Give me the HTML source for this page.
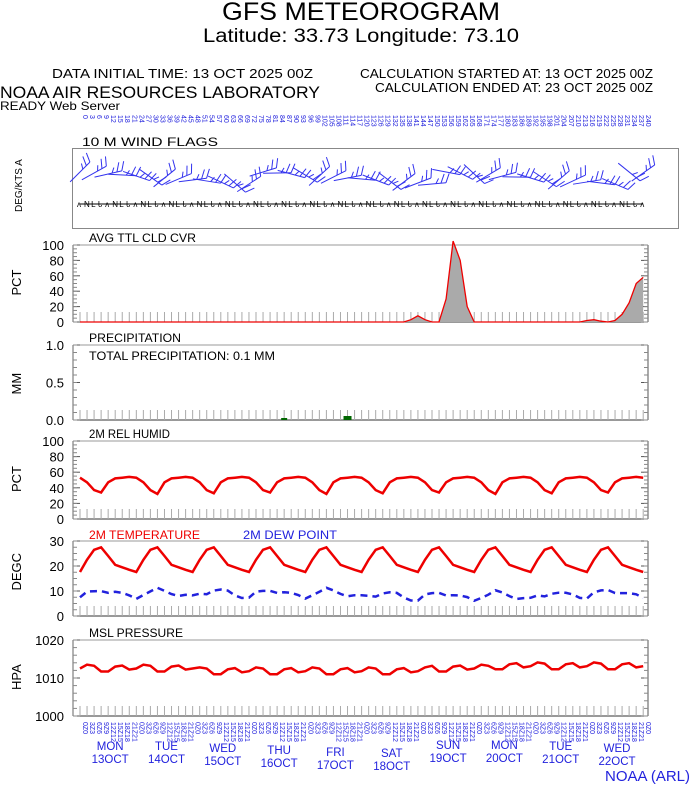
<!DOCTYPE html>
<html><head><meta charset="utf-8"><style>
html,body{margin:0;padding:0;background:#fff;}
svg{display:block;font-family:"Liberation Sans",Arial,sans-serif;}
</style></head><body>
<svg id="s" width="694" height="788" xmlns="http://www.w3.org/2000/svg">
<text x="222" y="20" font-size="25" textLength="278" lengthAdjust="spacingAndGlyphs">GFS METEOROGRAM</text>
<text x="203" y="42" font-size="19" textLength="316" lengthAdjust="spacingAndGlyphs">Latitude: 33.73 Longitude:  73.10</text>
<text x="52" y="78" font-size="13" textLength="261" lengthAdjust="spacingAndGlyphs">DATA INITIAL TIME: 13 OCT 2025 00Z</text>
<text x="360" y="78" font-size="13" textLength="293" lengthAdjust="spacingAndGlyphs">CALCULATION STARTED AT: 13 OCT 2025 00Z</text>
<text x="375" y="92" font-size="13" textLength="278" lengthAdjust="spacingAndGlyphs">CALCULATION ENDED AT: 23 OCT 2025 00Z</text>
<text x="0" y="98" font-size="17" textLength="320" lengthAdjust="spacingAndGlyphs">NOAA AIR RESOURCES LABORATORY</text>
<text x="0" y="110" font-size="12" textLength="120" lengthAdjust="spacingAndGlyphs">READY Web Server</text>
<text x="82" y="146" font-size="12" textLength="136" lengthAdjust="spacingAndGlyphs">10 M  WIND FLAGS</text>
<rect x="72.5" y="148.5" width="606" height="80" fill="none" stroke="#888"/>
<text transform="translate(22,212) rotate(-90)" font-size="10">DEG/KTS  A</text>
<g id="g"></g>
<text x="605" y="781" font-size="15" fill="#2222dd">NOAA (ARL)</text>
</svg>
<script>
const g=document.getElementById('g');let h='';
const X=i=>80+i*7.04;const L=73,R=648;
function panel(top,bot,title,tw,ylab,ticks,fn,minor){
 h+=`<line x1="${L}" y1="${top}" x2="${R}" y2="${top}" stroke="#999"/>`;
 h+=`<line x1="${L}" y1="${bot}" x2="${R}" y2="${bot}" stroke="#333"/>`;
 h+=`<line x1="${L}" y1="${top}" x2="${L}" y2="${bot}" stroke="#666"/>`;
 h+=`<line x1="${R}" y1="${top}" x2="${R}" y2="${bot}" stroke="#aaa" stroke-width="2"/>`;
 if(title)h+=`<text x="${L+16}" y="${top-3}" font-size="12" textLength="${tw}" lengthAdjust="spacingAndGlyphs">${title}</text>`;
 h+=`<text transform="translate(21,${(top+bot)/2+12}) rotate(-90)" font-size="13">${ylab}</text>`;
 for(const [v,lab] of ticks){const y=fn(v);h+=`<text x="64" y="${y+5}" font-size="13" text-anchor="end">${lab}</text>`;h+=`<line x1="${L}" y1="${y}" x2="${L+7}" y2="${y}" stroke="#555"/>`;h+=`<line x1="${R-7}" y1="${y}" x2="${R}" y2="${y}" stroke="#555"/>`;}
 const n=minor||10;for(let k=0;k<=n;k++){const y=top+(bot-top)*k/n;h+=`<line x1="${L}" y1="${y}" x2="${L+4}" y2="${y}" stroke="#888"/><line x1="${R-4}" y1="${y}" x2="${R}" y2="${y}" stroke="#888"/>`;}
 for(let i=0;i<=80;i++){h+=`<line x1="${X(i)}" y1="${bot-10}" x2="${X(i)}" y2="${bot}" stroke="#aaa"/>`;}
}
function line(vals,fn,col,w,dash){let p=vals.map((v,i)=>X(i).toFixed(1)+','+fn(v).toFixed(1)).join(' ');h+=`<polyline points="${p}" fill="none" stroke="${col}" stroke-width="${w}" ${dash?'stroke-dasharray="'+dash+'"':''}/>`;}
// cloud
const cf=v=>322-v*0.77;
let cl=new Array(81).fill(0);cl[47]=3;cl[48]=8;cl[49]=3;cl[52]=30;cl[53]=105;cl[54]=80;cl[55]=20;cl[72]=2;cl[73]=3;cl[74]=1;cl[76]=2;cl[77]=10;cl[78]=25;cl[79]=50;cl[80]=58;
panel(245,322,'AVG TTL CLD CVR',107,'PCT',[[100,'100'],[80,'80'],[60,'60'],[40,'40'],[20,'20'],[0,'0']],cf,20);
h+=`<polygon points="${X(0)},322 ${cl.map((v,i)=>X(i)+','+cf(v)).join(' ')} ${X(80)},322" fill="#aaa"/>`;
line(cl,cf,'#e00',1.3);
// precip
const pf=v=>420-v*75;
panel(345,420,'PRECIPITATION',92,'MM',[[1,'1.0'],[0.5,'0.5'],[0,'0.0']],pf,10);
h+=`<text x="89" y="360" font-size="12" textLength="186" lengthAdjust="spacingAndGlyphs">TOTAL PRECIPITATION:   0.1 MM</text>`;
h+=`<rect x="${X(29)-3}" y="418" width="6" height="2" fill="#060"/><rect x="${X(38)-4}" y="416" width="8" height="4" fill="#060"/>`;
// RH
const rf=v=>519-v*0.78;
panel(441,519,'2M REL HUMID',81,'PCT',[[100,'100'],[80,'80'],[60,'60'],[40,'40'],[20,'20'],[0,'0']],rf,20);
const rhp=[53,47,37,34,47,52,53,54];let rh=[];for(let i=0;i<=80;i++)rh.push(rhp[i%8]+ (i%8==3?-(i%3):0));
line(rh,rf,'#e00',2.5);
// temp
const tf=v=>616-v*2.5;
panel(541,616,'',0,'DEGC',[[30,'30'],[20,'20'],[10,'10'],[0,'0']],tf,12);
h+=`<text x="89" y="539" font-size="12" fill="#e00" textLength="111" lengthAdjust="spacingAndGlyphs">2M TEMPERATURE</text><text x="243" y="539" font-size="12" fill="#22d" textLength="94" lengthAdjust="spacingAndGlyphs">2M   DEW POINT</text>`;
const tp=[17.6,22.5,26.5,27.5,24,20.5,19.5,18.5];let t=[],d=[];
const dp=[7.5,9,9.5,10.5,10,9.5,8.5,8];
for(let i=0;i<=80;i++){t.push(tp[i%8]);d.push(dp[i%8]+Math.sin(i*1.3)*0.8-(i>40&&i<70?1:0));}
line(t,tf,'#e00',2.5);line(d,tf,'#22d',2.5,'7,5');
// pressure
const prf=v=>716-(v-1000)*3.8;
panel(640,716,'MSL PRESSURE',94,'HPA',[[1020,'1020'],[1010,'1010'],[1000,'1000']],prf,10);
const pp=[1012.5,1013.5,1013.2,1011.7,1011.7,1013.0,1013.3,1012.2];let pr=[];
for(let i=0;i<=80;i++)pr.push(pp[i%8]-(i>16&&i<50?0.7:0)+(i>58?0.6:0));
line(pr,prf,'#e00',2.5);
// wind barbs
for(let i=0;i<=80;i+=2){const x=X(i),y=178+((i*7)%13)-6,a=((i*53)%90)-45;h+=`<g transform="translate(${x},${y}) rotate(${a})" stroke="#33e" stroke-width="1" fill="none"><line x1="-14" y1="0" x2="14" y2="0"/><line x1="14" y1="0" x2="18" y2="-9"/><line x1="9" y1="0" x2="13" y2="-9"/><line x1="4" y1="0" x2="7" y2="-5"/></g>`;}
h+=`<line x1="${X(0)}" y1="204" x2="${X(80)}" y2="204" stroke="#000"/>`;
for(let i=0;i<=80;i++){h+=`<text x="${X(i)-3}" y="207" font-size="8">${'ᴧNLᏓ'[i%4]}</text>`;}
// top and bottom hour labels
const hrs=['0','3','6','9','12','15','18','21'];
for(let i=0;i<=80;i++){const hh=String(i*3);const x=X(i)+3;
 h+=`<text transform="translate(${x},${115}) rotate(90)" font-size="7" fill="#22d">${hh}</text>`;
 h+=`<text transform="translate(${x},${722}) rotate(90)" font-size="7" fill="#22d">${hrs[i%8]}Z${(i%8)*3}</text>`;}
// day labels
const days=['MON','TUE','WED','THU','FRI','SAT','SUN','MON','TUE','WED'];const yo=[0,0,2,4,6,7,-1,-1,0,2];
for(let k=0;k<10;k++){const x=X(4+8*k)+2;h+=`<text x="${x}" y="${750+yo[k]}" font-size="11.5" fill="#22d" text-anchor="middle">${days[k]}</text><text x="${x}" y="${763+yo[k]}" font-size="11.5" fill="#22d" text-anchor="middle">${13+k}OCT</text>`;}
g.innerHTML=h;
</script>
</body></html>
